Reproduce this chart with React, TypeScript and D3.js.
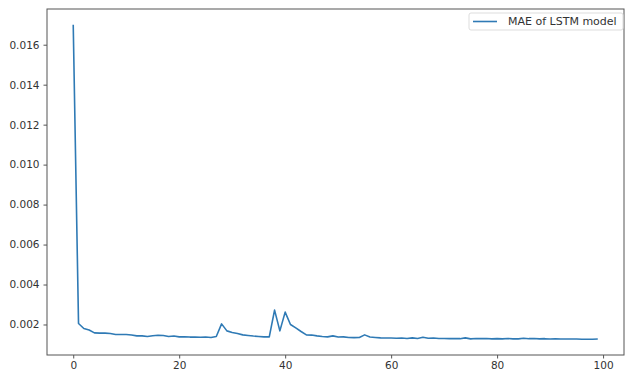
import React, { useEffect, useRef } from "react";
import * as d3 from "d3";

// MAE per epoch
const maeValues = [
  0.017, 0.00205, 0.0018, 0.00172, 0.00158, 0.00157, 0.00157, 0.00155, 0.0015, 0.0015,
  0.0015, 0.00147, 0.00143, 0.00143, 0.0014, 0.00144, 0.00146, 0.00145, 0.0014, 0.00142,
  0.00138, 0.00138, 0.00137, 0.00137, 0.00136, 0.00137, 0.00135, 0.0014, 0.00203, 0.00168,
  0.0016, 0.00155, 0.00148, 0.00145, 0.00142, 0.0014, 0.00138, 0.00138, 0.00272, 0.00168,
  0.00262, 0.002, 0.00183, 0.00165, 0.00148, 0.00147, 0.00143, 0.0014, 0.00138, 0.00143,
  0.00137, 0.00138, 0.00135, 0.00134, 0.00135, 0.00148, 0.00137, 0.00135, 0.00133, 0.00132,
  0.00132, 0.00131, 0.00132, 0.0013, 0.00133, 0.0013, 0.00136, 0.00131, 0.00132, 0.0013,
  0.0013, 0.00129, 0.00129, 0.00129, 0.00133, 0.00128, 0.0013, 0.00129, 0.0013, 0.00128,
  0.00129, 0.00128, 0.0013, 0.00128, 0.00128, 0.00131, 0.00129, 0.0013, 0.00128, 0.00129,
  0.00127, 0.00128, 0.00127, 0.00127, 0.00127, 0.00127, 0.00126, 0.00126, 0.00126, 0.00127,
];
const xTicks = [0, 20, 40, 60, 80, 100];
const yTicks = [0.002, 0.004, 0.006, 0.008, 0.01, 0.012, 0.014, 0.016];
const legendLabel = "MAE of LSTM model";

const App = () => {
  const svgRef = useRef<SVGSVGElement>(null);

  useEffect(() => {
    const svg = d3.select(svgRef.current);
    svg.selectAll("*").remove();

    const W = 627;
    const H = 372;
    const left = 47, right = 624, top = 9, bottom = 355;
    const font = "DejaVu Sans, sans-serif";
    const lineColor = "#2f7ab5";

    svg.attr("width", W).attr("height", H);

    // matplotlib style 5% margins
    const n = maeValues.length;
    const xPad = (n - 1) * 0.05;
    const [yMin, yMax] = d3.extent(maeValues) as [number, number];
    const yPad = (yMax - yMin) * 0.05;

    const x = d3.scaleLinear().domain([-xPad, n - 1 + xPad]).range([left, right]);
    const y = d3.scaleLinear().domain([yMin - yPad, yMax + yPad]).range([bottom, top]);

    const line = d3
      .line<number>()
      .x((d, i) => x(i))
      .y((d) => y(d));

    svg
      .append("path")
      .datum(maeValues)
      .attr("d", line)
      .attr("fill", "none")
      .attr("stroke", lineColor)
      .attr("stroke-width", 1.6)
      .attr("stroke-linejoin", "round");

    // frame
    svg
      .append("rect")
      .attr("x", left)
      .attr("y", top)
      .attr("width", right - left)
      .attr("height", bottom - top)
      .attr("fill", "none")
      .attr("stroke", "#555")
      .attr("stroke-width", 1);

    const xAxis = svg
      .append("g")
      .attr("transform", `translate(0,${bottom})`)
      .call(
        d3.axisBottom(x).tickValues(xTicks).tickSize(3.5).tickPadding(3).tickFormat(d3.format("d"))
      );
    xAxis.select(".domain").remove();

    const yAxis = svg
      .append("g")
      .attr("transform", `translate(${left},0)`)
      .call(
        d3.axisLeft(y).tickValues(yTicks).tickSize(3.5).tickPadding(4).tickFormat(d3.format(".3f"))
      );
    yAxis.select(".domain").remove();

    svg
      .selectAll(".tick line")
      .attr("stroke", "#555");
    svg
      .selectAll(".tick text")
      .attr("fill", "#333")
      .attr("font-family", font)
      .attr("font-size", 10.5);

    // legend
    const legend = svg.append("g").attr("transform", "translate(469,13)");
    legend
      .append("rect")
      .attr("width", 154)
      .attr("height", 17)
      .attr("rx", 2)
      .attr("fill", "white")
      .attr("stroke", "#ddd");
    legend
      .append("line")
      .attr("x1", 4)
      .attr("x2", 28)
      .attr("y1", 8.5)
      .attr("y2", 8.5)
      .attr("stroke", lineColor)
      .attr("stroke-width", 1.6);
    legend
      .append("text")
      .attr("x", 39)
      .attr("y", 8.5)
      .attr("dy", "0.35em")
      .attr("font-family", font)
      .attr("font-size", 11)
      .attr("fill", "#333")
      .text(legendLabel);
  }, []);

  return (
    <div style={{ position: "absolute", left: 0, top: 0 }}>
      <svg ref={svgRef}></svg>
    </div>
  );
};

export default App;
